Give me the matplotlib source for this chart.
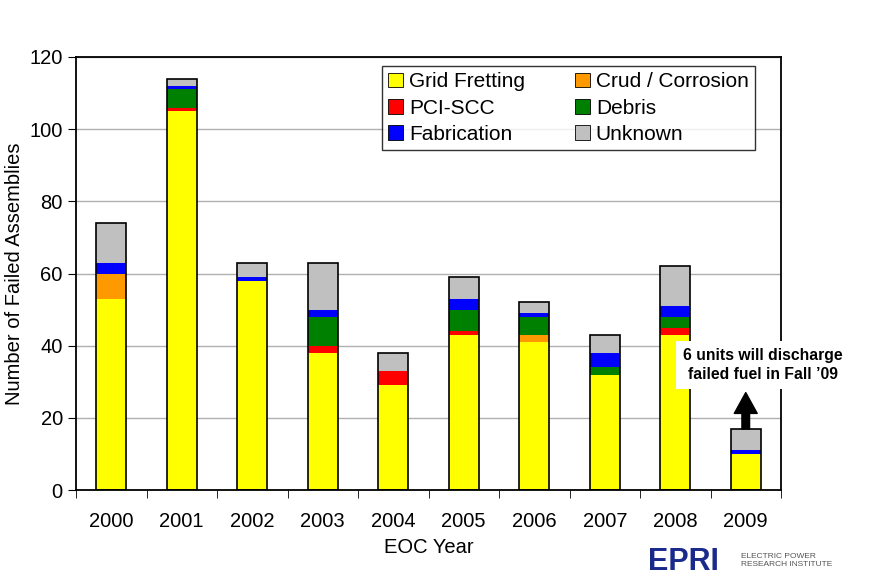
import numpy as np
import matplotlib
matplotlib.use('Agg')
import matplotlib.pyplot as plt

plt.rcParams['font.family'] = ['Liberation Sans', 'DejaVu Sans']

years = ['2000', '2001', '2002', '2003', '2004', '2005', '2006', '2007', '2008', '2009']
grid_fretting = [53, 105, 58, 38, 29, 43, 41, 32, 43, 10]
crud_corrosion = [7, 0, 0, 0, 0, 0, 2, 0, 0, 0]
pci_scc = [0, 1, 0, 2, 4, 1, 0, 0, 2, 0]
debris = [0, 5, 0, 8, 0, 6, 5, 2, 3, 0]
fabrication = [3, 1, 1, 2, 0, 3, 1, 4, 3, 1]
unknown = [11, 2, 4, 13, 5, 6, 3, 5, 11, 6]

series = [
    ('Grid Fretting', grid_fretting, '#ffff00'),
    ('Crud / Corrosion', crud_corrosion, '#ff9900'),
    ('PCI-SCC', pci_scc, '#ff0000'),
    ('Debris', debris, '#008000'),
    ('Fabrication', fabrication, '#0000ff'),
    ('Unknown', unknown, '#c0c0c0'),
]

fig = plt.figure(figsize=(8.74, 5.88), dpi=100)
ax = fig.add_axes([76 / 874, 1 - 490 / 588, 705 / 874, 433 / 588])

x = np.arange(len(years))
bottom = np.zeros(len(years))
for name, vals, col in series:
    vals = np.array(vals, dtype=float)
    ax.bar(x, vals, 0.42, bottom=bottom, color=col, edgecolor='none', zorder=2)
    bottom += vals
# black outline around each full bar
ax.bar(x, bottom, 0.42, fill=False, edgecolor='black', linewidth=1.2, zorder=3)

ax.set_xlim(-0.5, len(years) - 0.5)
ax.set_ylim(0, 120)
ax.set_yticks(range(0, 121, 20))
ax.yaxis.grid(True, color='#b0b0b0', linewidth=1)
ax.set_axisbelow(True)
ax.set_xticks(x)
ax.set_xticklabels(years, fontsize=14.5)
ax.tick_params(axis='x', length=0, pad=16)
ax.set_xticks(np.arange(-0.5, len(years), 1), minor=True)
ax.tick_params(axis='x', which='minor', length=6, direction='out')
ax.tick_params(axis='y', labelsize=14.5, length=6, direction='out')
for s in ax.spines.values():
    s.set_linewidth(1.3)
ax.set_xlabel('EOC Year', fontsize=14.5, labelpad=5)
ax.set_ylabel('Number of Failed Assemblies', fontsize=14.5)

# legend
order = ['Grid Fretting', 'PCI-SCC', 'Fabrication', 'Crud / Corrosion', 'Debris', 'Unknown']
proxies = []
for name in order:
    col = [c for n, v, c in series if n == name][0]
    proxies.append(plt.Rectangle((0, 0), 1, 1, facecolor=col, edgecolor='black', linewidth=0.6))
leg = ax.legend(proxies, order, ncol=2, loc='upper right', bbox_to_anchor=(0.963, 0.979),
                borderaxespad=0, fontsize=15, frameon=True, fancybox=False,
                handlelength=0.7, handleheight=0.7, handletextpad=0.3, columnspacing=2.4,
                labelspacing=0.35, borderpad=0.3)
leg.get_frame().set_edgecolor('black')
leg.get_frame().set_linewidth(1)

# annotation for 2009
ax.annotate('', xy=(9, 27), xytext=(9, 16.9),
            arrowprops=dict(facecolor='black', edgecolor='black', width=5.5, headwidth=16.5, headlength=15),
            zorder=5)
ax.text(9.24, 34.6, "6 units will discharge\nfailed fuel in Fall \u201909", fontsize=11.3, fontweight='bold',
        ha='center', va='center', linespacing=1.3, clip_on=False,
        bbox=dict(facecolor='white', edgecolor='none', pad=5), zorder=6)

# logo text
fig.text(0.741, 0.045, 'EPRI', fontsize=22, fontweight='bold', color='#1a2a8c', ha='left', va='center')
fig.text(0.848, 0.047, 'ELECTRIC POWER\nRESEARCH INSTITUTE', fontsize=6, color='#555555',
         ha='left', va='center', linespacing=1.1)

fig.savefig('out.png', dpi=100)
